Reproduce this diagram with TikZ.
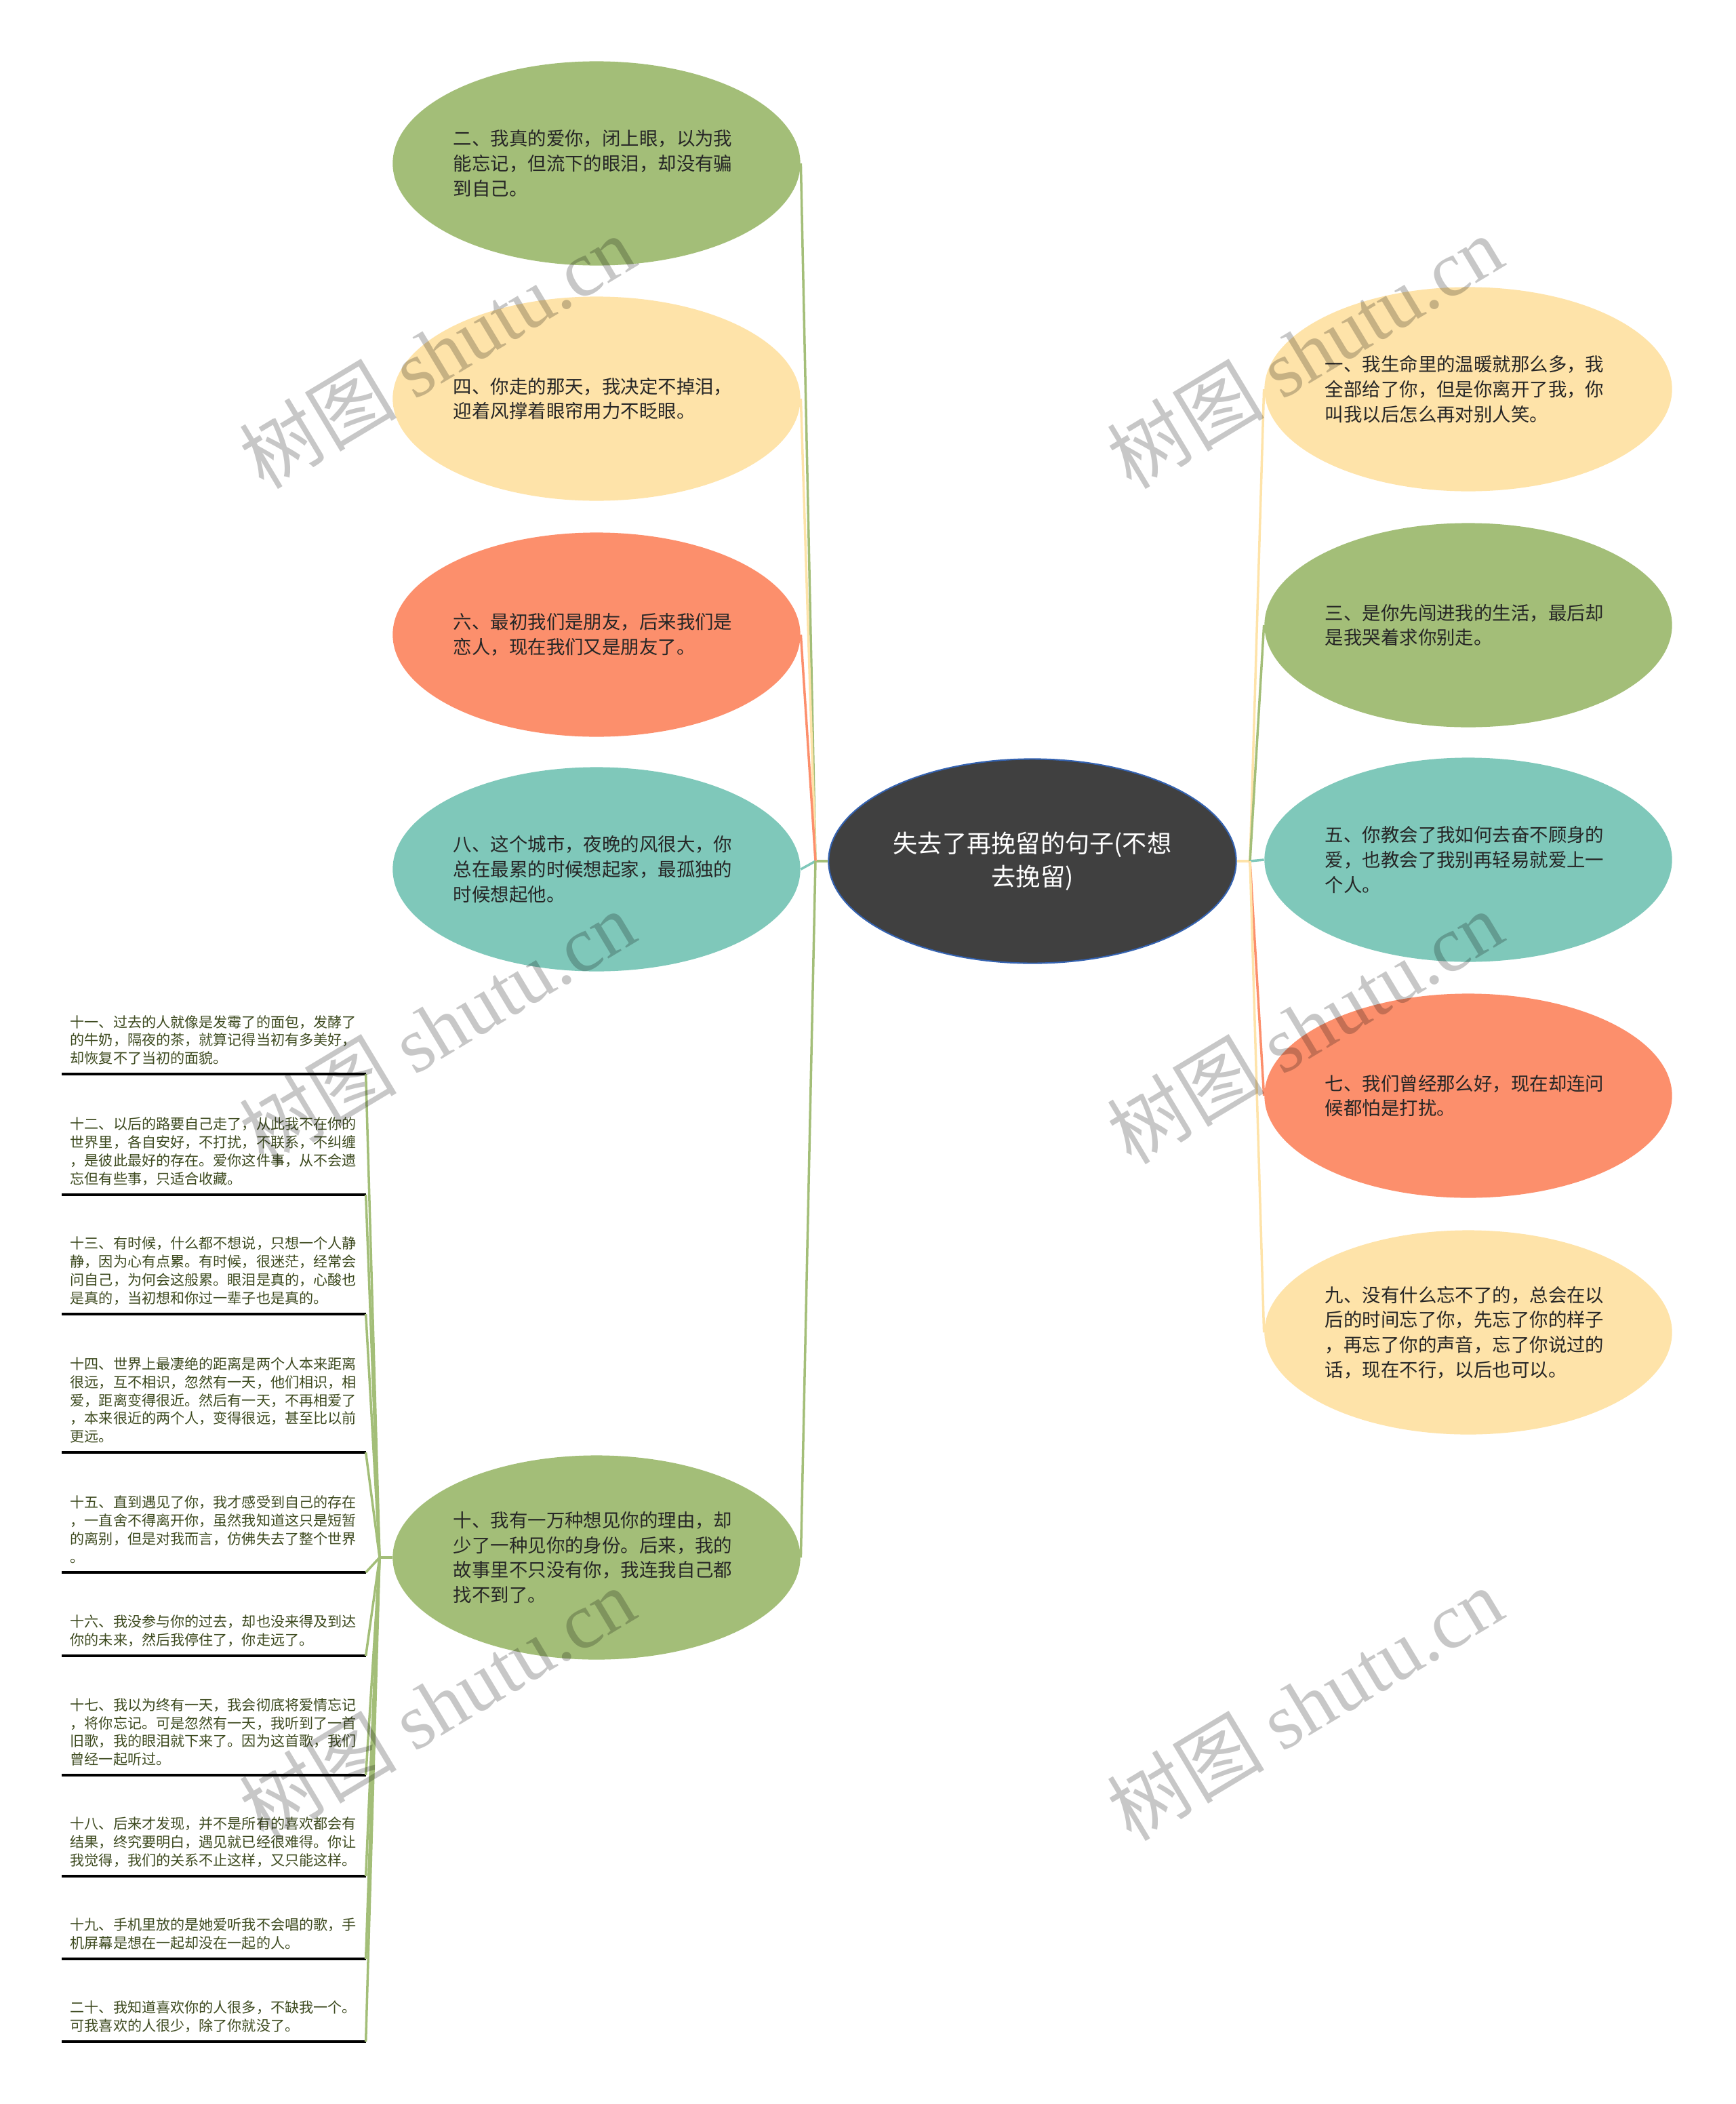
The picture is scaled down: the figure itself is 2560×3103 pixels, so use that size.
\documentclass[tikz,border=0pt]{standalone}
\usepackage{fontspec}
\setmainfont{Noto Sans CJK SC}
\newfontfamily\wmlatin{Liberation Serif}
\usepackage{xcolor}
\usepackage{tikz}
\usetikzlibrary{shapes.geometric,positioning}

\definecolor{mapgreen}{HTML}{A3BE78}
\definecolor{mapyellow}{HTML}{FEE3A9}
\definecolor{mapsalmon}{HTML}{FC8F6C}
\definecolor{mapteal}{HTML}{7FC8BA}
\definecolor{mapdark}{HTML}{404040}
\definecolor{mapblue}{HTML}{3462B0}
\definecolor{listtext}{HTML}{3D4A1F}

\tikzset{
  bubble/.style={ellipse, minimum width=6.01cm, minimum height=3.01cm, inner sep=0pt,
    text width=4.22cm, align=left, text=black!85,
    font=\fontsize{7.8pt}{10.4pt}\selectfont},
  quote/.style={anchor=south west, text width=4.23cm, inner xsep=0.12cm, inner ysep=0.13cm,
    align=left, text=listtext, font=\fontsize{6pt}{7.6pt}\selectfont},
  link/.style={line width=1pt},
  rule/.style={line width=0.9pt, black},
  wmark/.style={rotate=31, text=black, text opacity=0.22,
    font=\fontsize{33pt}{33pt}\selectfont}
}

\begin{document}
\begin{tikzpicture}[x=0.01cm, y=-0.01cm]
\useasboundingbox (0,0) rectangle (2560,3103);

% root
\node[ellipse, minimum width=6.01cm, minimum height=3.01cm, inner sep=0pt,
  fill=mapdark, draw=mapblue, line width=0.6pt, text=white, align=center,
  font=\fontsize{10.3pt}{14pt}\selectfont] (root) at (1523,1270)
  {失去了再挽留的句子(不想\\去挽留)};

% left branch
\node[bubble, fill=mapgreen] (b2) at (880,241)
  {二、我真的爱你，闭上眼，以为我\\能忘记，但流下的眼泪，却没有骗\\到自己。};
\node[bubble, fill=mapyellow] (b4) at (880,588)
  {四、你走的那天，我决定不掉泪，\\迎着风撑着眼帘用力不眨眼。};
\node[bubble, fill=mapsalmon] (b6) at (880,936)
  {六、最初我们是朋友，后来我们是\\恋人，现在我们又是朋友了。};
\node[bubble, fill=mapteal] (b8) at (880,1282)
  {八、这个城市，夜晚的风很大，你\\总在最累的时候想起家，最孤独的\\时候想起他。};
\node[bubble, fill=mapgreen] (b10) at (880,2297)
  {十、我有一万种想见你的理由，却\\少了一种见你的身份。后来，我的\\故事里不只没有你，我连我自己都\\找不到了。};

% right branch
\node[bubble, fill=mapyellow] (b1) at (2166,574)
  {一、我生命里的温暖就那么多，我\\全部给了你，但是你离开了我，你\\叫我以后怎么再对别人笑。};
\node[bubble, fill=mapgreen] (b3) at (2166,922)
  {三、是你先闯进我的生活，最后却\\是我哭着求你别走。};
\node[bubble, fill=mapteal] (b5) at (2166,1268)
  {五、你教会了我如何去奋不顾身的\\爱，也教会了我别再轻易就爱上一\\个人。};
\node[bubble, fill=mapsalmon] (b7) at (2166,1616)
  {七、我们曾经那么好，现在却连问\\候都怕是打扰。};
\node[bubble, fill=mapyellow] (b9) at (2166,1965)
  {九、没有什么忘不了的，总会在以\\后的时间忘了你，先忘了你的样子\\，再忘了你的声音，忘了你说过的\\话，现在不行，以后也可以。};

% junctions
\coordinate (jl) at (1203,1270);
\coordinate (jr) at (1844,1270);
\coordinate (jq) at (560,2297);

\draw[link, mapgreen] (root.west) -- (jl);
\foreach \b/\c in {b2/mapgreen, b4/mapyellow, b6/mapsalmon, b8/mapteal, b10/mapgreen}
  \draw[link, \c] (jl) -- (\b.east);
\draw[link, mapyellow] (root.east) -- (jr);
\foreach \b/\c in {b1/mapyellow, b3/mapgreen, b5/mapteal, b7/mapsalmon, b9/mapyellow}
  \draw[link, \c] (jr) -- (\b.west);

% underlined list under item ten
\foreach \n/\uy/\txt in {
  11/1584/{十一、过去的人就像是发霉了的面包，发酵了\\的牛奶，隔夜的茶，就算记得当初有多美好，\\却恢复不了当初的面貌。},
  12/1762/{十二、以后的路要自己走了，从此我不在你的\\世界里，各自安好，不打扰，不联系，不纠缠\\，是彼此最好的存在。爱你这件事，从不会遗\\忘但有些事，只适合收藏。},
  13/1938/{十三、有时候，什么都不想说，只想一个人静\\静，因为心有点累。有时候，很迷茫，经常会\\问自己，为何会这般累。眼泪是真的，心酸也\\是真的，当初想和你过一辈子也是真的。},
  14/2142/{十四、世界上最凄绝的距离是两个人本来距离\\很远，互不相识，忽然有一天，他们相识，相\\爱，距离变得很近。然后有一天，不再相爱了\\，本来很近的两个人，变得很远，甚至比以前\\更远。},
  15/2319/{十五、直到遇见了你，我才感受到自己的存在\\，一直舍不得离开你，虽然我知道这只是短暂\\的离别，但是对我而言，仿佛失去了整个世界\\。},
  16/2442/{十六、我没参与你的过去，却也没来得及到达\\你的未来，然后我停住了，你走远了。},
  17/2618/{十七、我以为终有一天，我会彻底将爱情忘记\\，将你忘记。可是忽然有一天，我听到了一首\\旧歌，我的眼泪就下来了。因为这首歌，我们\\曾经一起听过。},
  18/2767/{十八、后来才发现，并不是所有的喜欢都会有\\结果，终究要明白，遇见就已经很难得。你让\\我觉得，我们的关系不止这样，又只能这样。},
  19/2889/{十九、手机里放的是她爱听我不会唱的歌，手\\机屏幕是想在一起却没在一起的人。},
  20/3011/{二十、我知道喜欢你的人很多，不缺我一个。\\可我喜欢的人很少，除了你就没了。}} {
  \node[quote] (q\n) at (91,\uy) {\txt};
  \draw[rule] (q\n.south west) -- (q\n.south east);
  \draw[link, mapgreen] (q\n.south east) -- (jq);
}
\draw[link, mapgreen] (jq) -- (b10.west);

% watermarks
\foreach \w/\x/\y in {1/645/519, 2/1925/519, 3/645/1515, 4/1925/1515, 5/645/2513, 6/1925/2513}
  \node[wmark] (wm\w) at (\x,\y) {树图 {\wmlatin shutu.cn}};
\end{tikzpicture}
\end{document}
